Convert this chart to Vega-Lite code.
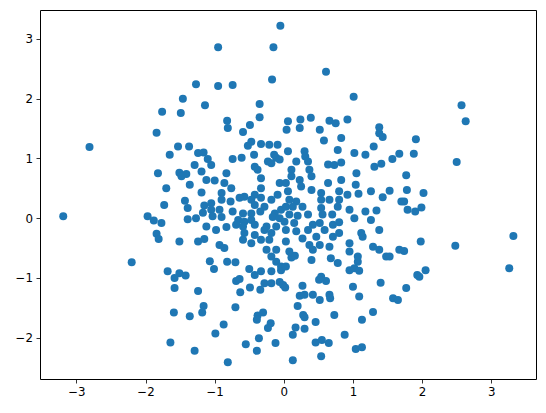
{
  "$schema": "https://vega.github.io/schema/vega-lite/v6.json",
  "autosize": "none",
  "width": 496,
  "height": 369,
  "padding": {"left": 40, "top": 10, "right": 10, "bottom": 34},
  "background": "white",
  "view": {"stroke": "black", "strokeWidth": 1},
  "config": {
    "axis": {"grid": false, "domain": false, "tickColor": "black", "tickSize": 4, "tickWidth": 0.8, "labelColor": "black", "labelFont": "DejaVu Sans", "labelFontSize": 11.8, "labelPadding": 3.5, "title": null}
  },
  "data": {"values": [
    {"x":-3.19,"y":0.03},{"x":-2.81,"y":1.19},{"x":-2.20,"y":-0.74},{"x":-1.97,"y":0.03},{"x":-1.88,"y":-0.04},{"x":-1.84,"y":-0.26},{"x":-1.81,"y":-0.35},{"x":-1.84,"y":1.43},{"x":-1.82,"y":0.75},{"x":-1.77,"y":-0.08},
    {"x":2.57,"y":1.89},{"x":2.63,"y":1.62},{"x":1.91,"y":1.32},{"x":1.88,"y":1.08},{"x":2.50,"y":0.94},{"x":1.77,"y":0.72},{"x":1.78,"y":0.47},{"x":2.02,"y":0.42},{"x":1.74,"y":0.28},{"x":1.79,"y":0.14},{"x":1.90,"y":0.11},{"x":1.99,"y":0.18},{"x":3.32,"y":-0.30},{"x":1.98,"y":-0.39},{"x":2.48,"y":-0.46},{"x":1.74,"y":-0.55},
    {"x":3.26,"y":-0.84},{"x":1.93,"y":-0.95},{"x":1.96,"y":-0.98},{"x":2.05,"y":-0.87},{"x":1.77,"y":-1.17},
    {"x":-0.05,"y":3.22},{"x":-0.95,"y":2.86},{"x":-0.15,"y":2.86},{"x":-0.17,"y":2.32},{"x":-1.27,"y":2.24},{"x":-0.95,"y":2.21},{"x":-0.74,"y":2.23},{"x":-1.46,"y":2.0},{"x":-1.14,"y":1.89},{"x":-1.76,"y":1.78},{"x":-1.49,"y":1.76},{"x":-0.35,"y":1.91},{"x":-0.35,"y":1.69},{"x":-0.82,"y":1.63},{"x":-0.81,"y":1.51},{"x":-0.49,"y":1.56},{"x":-0.59,"y":1.44},
    {"x":0.06,"y":1.62},{"x":0.04,"y":1.48},{"x":0.24,"y":1.65},{"x":0.23,"y":1.51},{"x":0.39,"y":1.68},{"x":0.52,"y":1.48},{"x":0.66,"y":1.63},{"x":0.75,"y":1.59},{"x":0.92,"y":1.65},{"x":1.38,"y":1.52},{"x":1.38,"y":1.42},{"x":0.61,"y":2.45},{"x":1.01,"y":2.03},
    {"x":-0.47,"y":1.28},{"x":-0.33,"y":1.24},{"x":-0.21,"y":1.23},{"x":-0.09,"y":1.23},{"x":-0.52,"y":1.21},{"x":-1.53,"y":1.20},{"x":-1.37,"y":1.20},{"x":-1.65,"y":1.06},{"x":-1.24,"y":1.09},{"x":-1.16,"y":1.10},{"x":-0.43,"y":1.06},{"x":-0.14,"y":1.06},{"x":-1.10,"y":0.99},{"x":-0.74,"y":0.99},{"x":-0.61,"y":1.01},{"x":-0.23,"y":0.95},{"x":-0.11,"y":1.01},{"x":-1.29,"y":0.89},{"x":-1.05,"y":0.89},{"x":-0.42,"y":0.86},{"x":-0.18,"y":0.92},{"x":-1.51,"y":0.76},{"x":-1.41,"y":0.74},{"x":-1.19,"y":0.78},{"x":-0.83,"y":0.75},{"x":-0.38,"y":0.81},{"x":-0.33,"y":0.67},{"x":-1.48,"y":0.70},{"x":-1.12,"y":0.64},{"x":-1.0,"y":0.63},{"x":-0.86,"y":0.59},{"x":-0.06,"y":0.59},{"x":-1.70,"y":0.50},{"x":-1.36,"y":0.56},{"x":-0.76,"y":0.50},{"x":-0.33,"y":0.50},{"x":-1.19,"y":0.43},{"x":-0.90,"y":0.42},{"x":-0.57,"y":0.36},{"x":-0.42,"y":0.39},{"x":-0.33,"y":0.34},{"x":-0.09,"y":0.39},{"x":-0.18,"y":0.31},{"x":-1.43,"y":0.29},{"x":-0.90,"y":0.31},{"x":-0.77,"y":0.28},{"x":-0.64,"y":0.34},{"x":-0.47,"y":0.31},{"x":-1.73,"y":0.22},{"x":-1.39,"y":0.17},{"x":-1.15,"y":0.21},{"x":-1.05,"y":0.25},{"x":-0.42,"y":0.22},{"x":-0.28,"y":0.19},{"x":-1.17,"y":0.09},{"x":-1.05,"y":0.14},{"x":-0.93,"y":0.14},{"x":-0.74,"y":0.11},{"x":-0.59,"y":0.08},{"x":-0.47,"y":0.08},{"x":-0.34,"y":0.11},{"x":-0.13,"y":0.08},{"x":-0.04,"y":0.14},{"x":-1.39,"y":-0.02},{"x":-1.27,"y":0.0},{"x":-1.03,"y":0.03},{"x":-0.90,"y":0.02},{"x":-0.66,"y":-0.03},{"x":-0.57,"y":-0.06},{"x":-0.47,"y":-0.03},{"x":-0.16,"y":0.02},{"x":-0.06,"y":0.0},{"x":-0.69,"y":-0.11},{"x":-0.59,"y":-0.14},{"x":-0.42,"y":-0.11},{"x":-0.25,"y":-0.14},{"x":-0.11,"y":-0.14},{"x":-1.12,"y":-0.14},{"x":-0.98,"y":-0.20},{"x":-0.83,"y":-0.15},{"x":-0.57,"y":-0.25},{"x":-0.42,"y":-0.28},{"x":-0.28,"y":-0.20},{"x":-0.18,"y":-0.25},{"x":-1.51,"y":-0.39},{"x":-1.24,"y":-0.39},{"x":-1.15,"y":-0.35},{"x":-0.59,"y":-0.36},{"x":-0.47,"y":-0.42},{"x":-0.33,"y":-0.36},{"x":-0.21,"y":-0.36},{"x":-0.93,"y":-0.45},{"x":-0.86,"y":-0.50},{"x":-0.25,"y":-0.53},{"x":-0.11,"y":-0.53},{"x":-0.18,"y":-0.64},
    {"x":-1.07,"y":-0.72},{"x":-0.82,"y":-0.73},{"x":-0.70,"y":-0.74},{"x":-1.01,"y":-0.85},{"x":-1.68,"y":-0.89},{"x":-1.51,"y":-0.92},{"x":-1.42,"y":-0.96},{"x":-1.58,"y":-1.0},{"x":-0.50,"y":-0.85},{"x":-0.42,"y":-0.95},{"x":-0.33,"y":-0.89},{"x":-0.18,"y":-0.89},{"x":-0.11,"y":-0.73},{"x":-0.04,"y":-0.87},{"x":-0.69,"y":-1.05},{"x":-0.64,"y":-1.02},{"x":-0.28,"y":-1.09},{"x":-0.18,"y":-1.09},{"x":-0.06,"y":-1.07},{"x":-0.49,"y":-1.16},{"x":-0.34,"y":-1.20},{"x":-1.58,"y":-1.17},{"x":-1.24,"y":-1.22},{"x":-0.63,"y":-1.24},{"x":-1.16,"y":-1.47},{"x":-1.18,"y":-1.58},{"x":-1.59,"y":-1.58},{"x":-1.36,"y":-1.64},{"x":-0.70,"y":-1.49},{"x":-0.30,"y":-1.58},{"x":-0.38,"y":-1.63},{"x":-0.39,"y":-1.70},{"x":-0.87,"y":-1.78},{"x":-0.19,"y":-1.76},{"x":-0.23,"y":-1.84},{"x":-0.99,"y":-1.93},{"x":-0.36,"y":-2.01},{"x":-1.64,"y":-2.08},{"x":-0.55,"y":-2.11},{"x":-0.12,"y":-2.09},{"x":-1.29,"y":-2.22},{"x":-0.39,"y":-2.22},{"x":-0.81,"y":-2.41},
    {"x":0.11,"y":-0.66},{"x":0.16,"y":-0.63},{"x":-0.04,"y":-0.81},{"x":0.03,"y":-0.81},{"x":0.40,"y":-0.70},{"x":0.78,"y":-0.75},{"x":1.07,"y":-0.73},{"x":0.95,"y":-0.87},{"x":1.02,"y":-0.84},{"x":1.09,"y":-0.88},{"x":1.48,"y":-0.64},{"x":0.54,"y":-0.98},{"x":0.61,"y":-1.05},{"x":0.51,"y":-1.03},{"x":-0.01,"y":-1.12},{"x":0.02,"y":-1.16},{"x":0.27,"y":-1.13},{"x":1.0,"y":-1.15},{"x":1.40,"y":-1.08},{"x":0.23,"y":-1.30},{"x":0.30,"y":-1.28},{"x":0.42,"y":-1.28},{"x":0.52,"y":-1.37},{"x":0.66,"y":-1.28},{"x":0.67,"y":-1.34},{"x":1.09,"y":-1.31},{"x":1.58,"y":-1.34},{"x":1.65,"y":-1.37},{"x":0.20,"y":-1.47},{"x":0.28,"y":-1.62},{"x":0.30,"y":-1.66},{"x":0.46,"y":-1.74},{"x":0.73,"y":-1.62},{"x":1.13,"y":-1.70},{"x":1.29,"y":-1.57},{"x":0.17,"y":-1.83},{"x":0.30,"y":-1.85},{"x":0.13,"y":-1.95},{"x":0.88,"y":-1.95},{"x":0.46,"y":-2.08},{"x":0.55,"y":-2.04},{"x":0.65,"y":-2.09},{"x":1.04,"y":-2.19},{"x":1.13,"y":-2.16},{"x":0.54,"y":-2.31},{"x":0.13,"y":-2.38},
    {"x":1.43,"y":1.36},{"x":0.58,"y":1.30},{"x":0.83,"y":1.34},{"x":0.06,"y":1.12},{"x":0.30,"y":1.12},{"x":0.31,"y":1.03},{"x":0.78,"y":1.14},{"x":1.02,"y":1.09},{"x":1.18,"y":1.06},{"x":1.30,"y":1.20},{"x":1.57,"y":0.99},{"x":1.67,"y":1.08},{"x":-0.06,"y":0.98},{"x":0.18,"y":0.95},{"x":0.35,"y":0.95},{"x":0.64,"y":0.90},{"x":0.73,"y":0.89},{"x":0.83,"y":0.93},{"x":1.31,"y":0.86},{"x":1.41,"y":0.91},{"x":0.11,"y":0.81},{"x":0.37,"y":0.81},{"x":1.05,"y":0.75},{"x":0.11,"y":0.70},{"x":0.23,"y":0.64},{"x":0.40,"y":0.70},{"x":0.83,"y":0.64},{"x":0.03,"y":0.59},{"x":0.25,"y":0.53},{"x":0.64,"y":0.59},{"x":1.04,"y":0.56},{"x":1.26,"y":0.45},{"x":1.53,"y":0.46},{"x":0.06,"y":0.45},{"x":0.40,"y":0.47},{"x":0.54,"y":0.42},{"x":0.80,"y":0.45},{"x":0.92,"y":0.39},{"x":1.08,"y":0.41},{"x":1.43,"y":0.35},{"x":1.70,"y":0.28},{"x":0.08,"y":0.31},{"x":0.18,"y":0.28},{"x":0.54,"y":0.31},{"x":0.66,"y":0.31},{"x":0.80,"y":0.31},{"x":0.03,"y":0.19},{"x":0.13,"y":0.19},{"x":0.27,"y":0.19},{"x":0.54,"y":0.17},{"x":0.78,"y":0.19},{"x":0.95,"y":0.14},{"x":1.18,"y":0.11},{"x":1.34,"y":0.13},{"x":0.08,"y":0.06},{"x":0.20,"y":0.04},{"x":0.35,"y":0.06},{"x":0.56,"y":0.06},{"x":0.70,"y":0.06},{"x":1.02,"y":0.0},{"x":1.26,"y":-0.03},{"x":0.01,"y":-0.06},{"x":0.15,"y":-0.08},{"x":0.42,"y":-0.11},{"x":0.52,"y":-0.08},{"x":0.71,"y":-0.11},{"x":0.80,"y":-0.07},{"x":1.38,"y":-0.20},{"x":0.03,"y":-0.20},{"x":0.18,"y":-0.22},{"x":0.35,"y":-0.20},{"x":0.59,"y":-0.20},{"x":1.12,"y":-0.25},{"x":1.14,"y":-0.31},{"x":0.27,"y":-0.34},{"x":0.47,"y":-0.31},{"x":0.71,"y":-0.31},{"x":0.80,"y":-0.25},{"x":0.03,"y":-0.39},{"x":0.37,"y":-0.45},{"x":0.52,"y":-0.45},{"x":0.66,"y":-0.48},{"x":0.95,"y":-0.42},{"x":1.29,"y":-0.48},{"x":1.38,"y":-0.53},{"x":1.67,"y":-0.53},{"x":0.08,"y":-0.56},{"x":0.42,"y":-0.53},{"x":0.95,"y":-0.56},{"x":1.07,"y":-0.64},{"x":1.53,"y":-0.64},{"x":0.68,"y":-0.67}
  ]},
  "mark": {"type": "point", "filled": true, "shape": "circle", "size": 64, "color": "#1f77b4", "opacity": 1},
  "encoding": {
    "x": {"field": "x", "type": "quantitative", "scale": {"domain": [-3.526, 3.647], "nice": false, "zero": false}, "axis": {"values": [-3, -2, -1, 0, 1, 2, 3], "format": "d"}},
    "y": {"field": "y", "type": "quantitative", "scale": {"domain": [-2.692, 3.484], "nice": false, "zero": false}, "axis": {"values": [-2, -1, 0, 1, 2, 3], "format": "d"}}
  }
}
